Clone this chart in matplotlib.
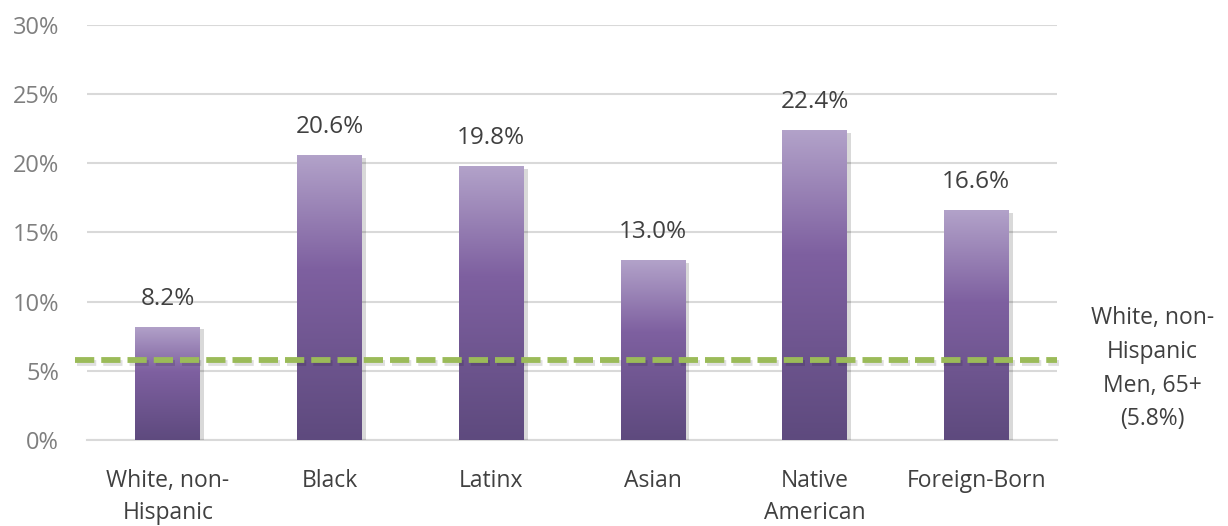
import numpy as np
import matplotlib.pyplot as plt
import matplotlib.patheffects as pe
from matplotlib.colors import LinearSegmentedColormap
from matplotlib.patches import Rectangle

categories = ['White, non-\nHispanic', 'Black', 'Latinx', 'Asian', 'Native\nAmerican', 'Foreign-Born']
values = [8.2, 20.6, 19.8, 13.0, 22.4, 16.6]
benchmark = 5.8
benchmark_label = 'White, non-\nHispanic\nMen, 65+\n(5.8%)'
yticks = [0, 5, 10, 15, 20, 25, 30]

plt.rcParams['font.family'] = ['Open Sans', 'DejaVu Sans']

fig = plt.figure(figsize=(12.28, 5.26), dpi=100)
ax = fig.add_axes([0.0708, 0.1635, 0.790, 0.789])

# purple gradient, dark at the base, light at the top of each bar
grad = LinearSegmentedColormap.from_list(
    'purp', [(0.0, '#5E4A7E'), (0.6, '#7E60A0'), (1.0, '#B2A2C9')])
gimg = np.linspace(0, 1, 256).reshape(-1, 1)

width = 0.40
x = np.arange(len(categories))
for xi, v in zip(x, values):
    rect = Rectangle((xi - width / 2, 0), width, v, facecolor='#6E5590',
                     edgecolor='none', zorder=3,
                     path_effects=[pe.withSimplePatchShadow(offset=(3, -2), shadow_rgbFace='#000000', alpha=0.15)])
    ax.add_patch(rect)
    im = ax.imshow(gimg, cmap=grad, aspect='auto', origin='lower',
                   extent=(xi - width / 2, xi + width / 2, 0, v), zorder=4)
    im.set_clip_path(rect)
    ax.text(xi, v + 1.15, f'{v:.1f}%', ha='center', va='bottom',
            fontsize=17.5, color='#404040', zorder=5)

ax.axhline(benchmark, xmin=-0.012, xmax=1.0, color='#9BBB59', lw=4.2,
           dashes=(3.3, 1.2), dash_capstyle='butt', zorder=6, clip_on=False,
           path_effects=[pe.SimpleLineShadow(offset=(1.5, -2.5), shadow_color='#000000', alpha=0.12), pe.Normal()])

ax.text(1.098, 0.172, benchmark_label, transform=ax.transAxes, ha='center', va='center',
        fontsize=16.5, color='#404040', linespacing=1.55)

ax.set_xlim(-0.5, len(categories) - 0.5)
ax.set_ylim(0, 30)
ax.set_yticks(yticks)
ax.set_yticklabels([f'{t}%' for t in yticks])
ax.set_xticks(x)
ax.set_xticklabels(categories, linespacing=1.45)
ax.grid(axis='y', color='#D9D9D9', lw=1.5, zorder=0)
ax.set_axisbelow(True)
for s in ['top', 'right', 'left']:
    ax.spines[s].set_visible(False)
ax.spines['bottom'].set_color('#D9D9D9')
ax.spines['bottom'].set_linewidth(1.5)
ax.tick_params(axis='y', length=0, pad=20, labelsize=17, labelcolor='#7F7F7F')
ax.tick_params(axis='x', length=0, pad=21, labelsize=16.5, labelcolor='#404040')

fig.savefig('out.png', dpi=100)
